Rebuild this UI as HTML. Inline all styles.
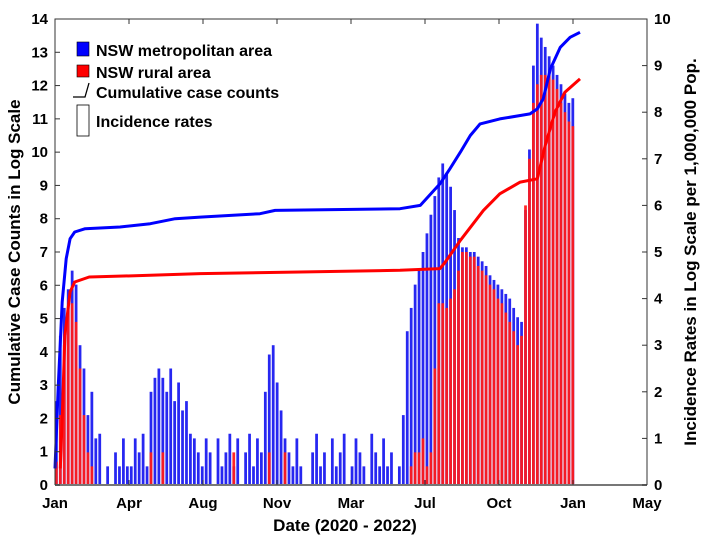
<!DOCTYPE html>
<html><head><meta charset="utf-8">
<style>
body{margin:0;background:#fff;}
svg{display:block;font-family:"Liberation Sans",Arial,sans-serif;font-weight:bold;}
</style></head>
<body>
<svg id="chart" width="708" height="546" viewBox="0 0 708 546">
<g id="bars"></g>
<g id="lines"></g>
<g id="axes"></g>
<g>
  <rect x="77" y="42" width="12" height="14" fill="#0000ff" stroke="#000" stroke-width="0.6"/>
  <text x="96" y="56" font-size="16">NSW metropolitan area</text>
  <rect x="77" y="65" width="12" height="12" fill="#ff0000" stroke="#000" stroke-width="0.6"/>
  <text x="96" y="78" font-size="16">NSW rural area</text>
  <path d="M73,97 H85 L89,83" fill="none" stroke="#000" stroke-width="1.3"/>
  <text x="96" y="98" font-size="16">Cumulative case counts</text>
  <rect x="77" y="105" width="12" height="31" fill="none" stroke="#000" stroke-width="0.8"/>
  <text x="96" y="127" font-size="16">Incidence rates</text>
</g>
<text x="345" y="531" font-size="17" text-anchor="middle">Date (2020 - 2022)</text>
<text transform="translate(20,252) rotate(-90)" font-size="17" text-anchor="middle">Cumulative Case Counts in Log Scale</text>
<text transform="translate(696,252) rotate(-90)" font-size="17" text-anchor="middle">Incidence Rates in Log Scale per 1,000,000  Pop.</text>
</svg>
<script>
const xTickLabels=["Jan","Apr","Aug","Nov","Mar","Jul","Oct","Jan","May"];
const leftTicks=[0,1,2,3,4,5,6,7,8,9,10,11,12,13,14];
const rightTicks=[0,1,2,3,4,5,6,7,8,9,10];
const binDays=6;
const metroIncidence=[1.8,3.2,3.8,4.2,4.6,4.3,3.0,2.5,1.5,2.0,1.0,1.1,
0,0.4,0,0.7,0.4,1.0,0.4,
0.4,1.0,0.7,1.1,0.4,2.0,2.3,2.5,2.3,2.0,2.5,1.8,2.2,1.6,1.8,1.1,1.0,0.7,
0.4,1.0,0.7,0,1.0,0.4,0.7,1.1,0.4,1.0,0,0.7,1.1,0.4,1.0,0.7,
2.0,2.8,3.0,2.2,1.6,1.0,0.7,
0.4,1.0,0.4,0,0,0.7,1.1,0.4,0.7,0,1.0,0.4,0.7,1.1,0,0.4,1.0,0.7,0.4,0,1.1,0.7,0.4,1.0,0.4,0.7,0,0.4,1.5,
3.3,3.8,4.3,4.6,5.0,5.4,5.8,6.2,6.6,6.9,6.7,6.4,5.9,5.3,5.1,5.1,5.0,5.0,4.9,4.8,4.7,4.5,4.4,4.3,4.2,4.1,4.0,3.8,3.6,3.5,5.9,7.2,9.0,9.9,9.6,9.4,9.2,9.0,8.8,8.6,8.4,8.2,8.3];
const ruralIncidence=[0.5,1.5,3.0,3.8,3.9,3.5,2.5,1.5,0.7,0.4,0,0,
0,0,0,0,0,0,0,0,0,0,0,0,0.7,0,0,0.7,0,0,0,0,0,0,0,0,0,0,0,0,0,0,0,0,0,0.7,0,0,0,0,0,0,0,0,0.7,0,0,0,0.7,0,0,0,0,0,0,0,0,0,0,0,0,0,0,0,0,0,0,0,0,0,0,0,0,0,0,0,0,0,0,
0,0.4,0.7,0.7,1.0,0.4,0.7,2.5,3.9,3.9,3.8,4.0,4.2,4.6,5.0,5.0,4.9,4.9,4.7,4.6,4.5,4.3,4.2,4.0,3.9,3.7,3.5,3.3,3.0,3.2,6.0,7.0,8.2,8.6,8.8,8.8,8.8,8.7,8.5,8.2,8.0,7.8,7.7];
const metroCumDays=[0,5,11,17,23,30,46,99,145,183,221,312,335,525,556,586,601,617,632,647,677,723,734,743,754,769,784,799];
const metroCumVals=[0.5,3,5.5,6.8,7.4,7.6,7.7,7.75,7.85,8.0,8.05,8.15,8.25,8.3,8.4,9.05,9.5,10.0,10.5,10.85,11.0,11.15,11.3,11.6,12.5,13.15,13.45,13.6];
const ruralCumDays=[8,11,15,23,30,52,145,221,373,525,586,594,617,652,677,708,734,746,761,776,799];
const ruralCumVals=[0.5,2,4.5,5.8,6.1,6.25,6.3,6.35,6.4,6.45,6.5,6.7,7.35,8.25,8.75,9.1,9.2,10.2,11.2,11.8,12.2];

const NS="http://www.w3.org/2000/svg";
const X0=55,X1=647,Y0=485,Y1=19,DMAX=901;
const xs=d=>X0+d*(X1-X0)/DMAX;
const yL=v=>Y0-v*(Y0-Y1)/14;
const yR=v=>Y0-v*(Y0-Y1)/10;
function mk(tag,attrs,parent){const e=document.createElementNS(NS,tag);for(const k in attrs)e.setAttribute(k,attrs[k]);parent.appendChild(e);return e;}
const bars=document.getElementById('bars'),lines=document.getElementById('lines'),axes=document.getElementById('axes');
const bw=binDays*(X1-X0)/DMAX;
metroIncidence.forEach((v,i)=>{if(v<=0)return;
 const r=mk('rect',{x:xs(i*binDays),y:yR(v),width:bw*0.7,height:Y0-yR(v),fill:'#1010f0','fill-opacity':0.9},bars);
 
 
});
ruralIncidence.forEach((v,i)=>{if(v<=0)return;
 const r=mk('rect',{x:xs(i*binDays),y:yR(v),width:bw*0.7,height:Y0-yR(v),fill:'#ff1a1a','fill-opacity':0.95},bars);
 
 
});
function line(days,vals,color,name){
 const d=days.map((t,i)=>(i?'L':'M')+xs(t).toFixed(1)+','+yL(vals[i]).toFixed(1)).join(' ');
 const p=mk('path',{d:d,fill:'none',stroke:color,'stroke-width':3,'stroke-linejoin':'round'},lines);
 
 
}
line(metroCumDays,metroCumVals,'#0000ff','metro-cumulative-line');
line(ruralCumDays,ruralCumVals,'#ff0000','rural-cumulative-line');
const box=mk('path',{d:`M${X0},${Y0} V${Y1} H${X1} V${Y0}`,fill:'none',stroke:'#333','stroke-width':1},axes);


const xa=mk('line',{x1:X0,x2:X1,y1:Y0,y2:Y0,stroke:'#777','stroke-width':2},axes);


xTickLabels.forEach((lab,i)=>{const x=X0+i*(X1-X0)/8;
 mk('line',{x1:x,x2:x,y1:Y0,y2:Y0-5,stroke:'#333'},axes);
 mk('line',{x1:x,x2:x,y1:Y1,y2:Y1+5,stroke:'#333'},axes);
 const t=mk('text',{x:x,y:Y0+23,'font-size':15,'text-anchor':'middle'},axes);t.textContent=lab;
 
 
});
leftTicks.forEach(v=>{const y=yL(v);
 mk('line',{x1:X0,x2:X0+5,y1:y,y2:y,stroke:'#333'},axes);
 const t=mk('text',{x:X0-7,y:y+5,'font-size':15,'text-anchor':'end'},axes);t.textContent=v;
 
 
});
rightTicks.forEach(v=>{const y=yR(v);
 mk('line',{x1:X1,x2:X1-5,y1:y,y2:y,stroke:'#333'},axes);
 const t=mk('text',{x:X1+7,y:y+5,'font-size':15,'text-anchor':'start'},axes);t.textContent=v;
 
 
});
</script>
</body></html>
